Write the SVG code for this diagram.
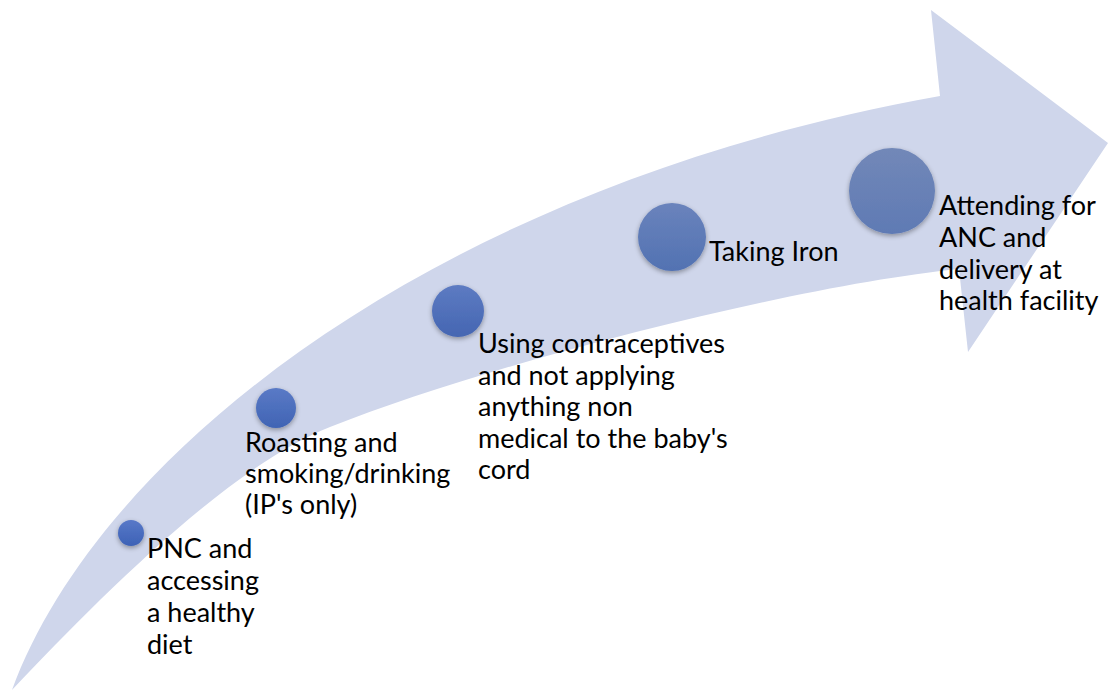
<svg xmlns="http://www.w3.org/2000/svg" width="1108" height="695" viewBox="0 0 1108 695">
<defs>
<style>
.lbl{font-family:"Lato","Liberation Sans",sans-serif;font-size:27px;fill:#000;}
</style>
<filter id="sh" x="-50%" y="-50%" width="200%" height="200%">
<feGaussianBlur in="SourceAlpha" stdDeviation="2.5"/>
<feOffset dy="2" result="b"/>
<feComponentTransfer><feFuncA type="linear" slope="0.35"/></feComponentTransfer>
<feMerge><feMergeNode/><feMergeNode in="SourceGraphic"/></feMerge>
</filter>
<linearGradient id="g1" x1="0" y1="0" x2="0" y2="1"><stop offset="0" stop-color="#5878c8"/><stop offset="1" stop-color="#3d62b6"/></linearGradient>
<linearGradient id="g2" x1="0" y1="0" x2="0" y2="1"><stop offset="0" stop-color="#5a7ac6"/><stop offset="1" stop-color="#4064b4"/></linearGradient>
<linearGradient id="g3" x1="0" y1="0" x2="0" y2="1"><stop offset="0" stop-color="#5d7bc2"/><stop offset="1" stop-color="#4566b2"/></linearGradient>
<linearGradient id="g4" x1="0" y1="0" x2="0" y2="1"><stop offset="0" stop-color="#6a83bc"/><stop offset="1" stop-color="#5272b2"/></linearGradient>
<linearGradient id="g5" x1="0" y1="0" x2="0" y2="1"><stop offset="0" stop-color="#7288b8"/><stop offset="1" stop-color="#5f7ab4"/></linearGradient>
</defs>
<rect width="1108" height="695" fill="#ffffff"/>
<g id="arrow">
<path d="M12,690 C100,450 440,185 940,96 L931,10 L1108,143 L968,352 L959,269 C800,285 500,360 330,427 C230,466 100,597 12,690 Z" fill="#cfd6eb"/>
</g>
<g id="connectors"></g>
<g id="node1">
<circle cx="131" cy="533" r="13" fill="url(#g1)" filter="url(#sh)"/>
<text class="lbl"><tspan x="147" y="558">PNC and</tspan><tspan x="147" y="590">accessing</tspan><tspan x="147" y="622">a healthy</tspan><tspan x="147" y="654">diet</tspan></text>
</g>
<g id="node2">
<circle cx="276" cy="408" r="20" fill="url(#g2)" filter="url(#sh)"/>
<text class="lbl"><tspan x="245" y="452">Roasting and</tspan><tspan x="245" y="483">smoking/drinking</tspan><tspan x="245" y="514">(IP's only)</tspan></text>
</g>
<g id="node3">
<circle cx="458" cy="311" r="26" fill="url(#g3)" filter="url(#sh)"/>
<text class="lbl"><tspan x="478" y="353">Using contraceptives</tspan><tspan x="478" y="385">and not applying</tspan><tspan x="478" y="416">anything non</tspan><tspan x="478" y="448">medical to the baby's</tspan><tspan x="478" y="479">cord</tspan></text>
</g>
<g id="node4">
<circle cx="672" cy="237" r="34" fill="url(#g4)" filter="url(#sh)"/>
<text class="lbl" x="709" y="261">Taking Iron</text>
</g>
<g id="node5">
<circle cx="892" cy="191" r="43" fill="url(#g5)" filter="url(#sh)"/>
<text class="lbl"><tspan x="939" y="215">Attending for</tspan><tspan x="939" y="247">ANC and</tspan><tspan x="939" y="279">delivery at</tspan><tspan x="939" y="310">health facility</tspan></text>
</g>
</svg>
